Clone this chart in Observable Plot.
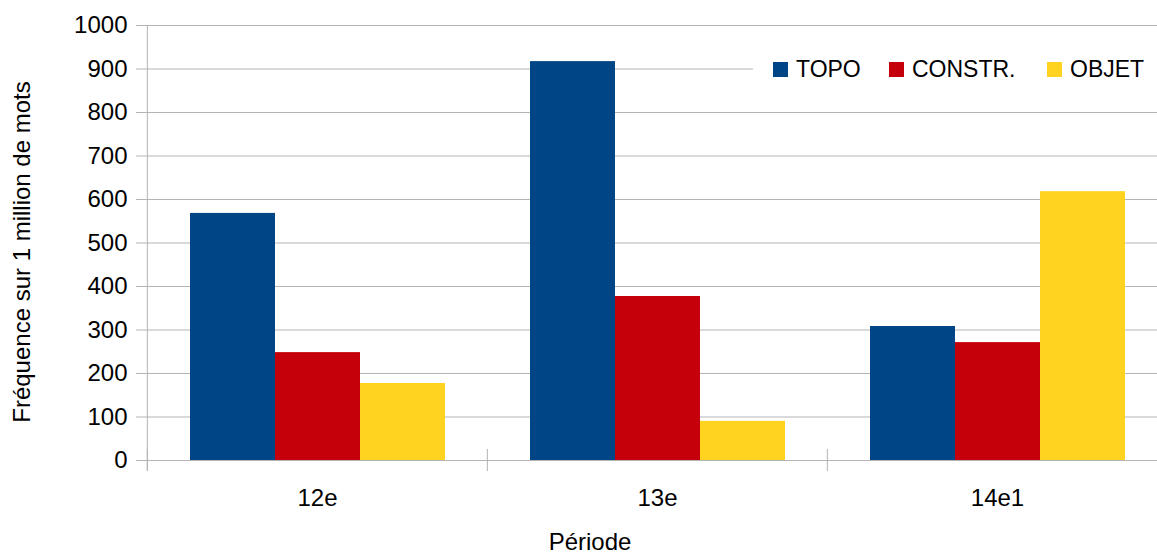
<!DOCTYPE html>
<html><head><meta charset="utf-8">
<script src="https://cdn.jsdelivr.net/npm/d3@7"></script>
<script src="https://cdn.jsdelivr.net/npm/@observablehq/plot@0.6"></script>
<style>
html,body{margin:0;padding:0;overflow:hidden;background:#fff;width:1157px;height:554px}
#wrap{position:relative;width:1157px;height:554px;overflow:hidden;font-family:"Liberation Sans",Arial,sans-serif;color:#000}
#wrap svg{position:absolute;left:0;top:0;max-width:none!important;width:1167px!important;height:554px!important}
.ytitle{position:absolute;left:22px;top:252px;transform:translate(-50%,-50%) rotate(-90deg);white-space:nowrap;font-size:24px;line-height:24px}
.xtitle{position:absolute;left:590px;top:531px;transform:translateX(-50%);white-space:nowrap;font-size:24px;line-height:22px}
.legend{position:absolute;left:753px;top:35px;width:404px;height:65px;background:#fff}
.item{position:absolute;top:22.5px;font-size:23px;line-height:23px;white-space:nowrap}
.sw{position:absolute;top:27px;width:15px;height:15px}
</style></head><body><div id="wrap"></div>
<script>
const periods = ["12e", "13e", "14e1"];
const series = ["TOPO", "CONSTR.", "OBJET"];
const topo = [568, 917, 308];
const constr = [248, 377, 271];
const objet = [177, 90, 618];
const colors = ["#004586", "#c5000b", "#ffd320"];
const yTicks = [0, 100, 200, 300, 400, 500, 600, 700, 800, 900, 1000];
const yTitle = "Fréquence sur 1 million de mots";
const xTitle = "Période";

const values = [topo, constr, objet];
const data = periods.flatMap((p, i) => series.map((s, j) => ({period: p, series: s, value: values[j][i]})));

const W = 1167, ML = 146;
const half = (W - ML) / periods.length / 2;

const chart = Plot.plot({
  width: W, height: 554,
  marginLeft: ML, marginRight: 0, marginTop: 25, marginBottom: 94,
  style: {fontFamily: '"Liberation Sans", Arial, sans-serif', fontSize: "24px", color: "black", background: "white"},
  fx: {domain: periods, padding: 0},
  x: {domain: series, paddingInner: 0, paddingOuter: 0.495, axis: null},
  y: {domain: [0, 1000]},
  color: {domain: series, range: colors},
  marks: [
    Plot.gridY(yTicks, {stroke: "#b3b3b3", strokeOpacity: 1}),
    Plot.barY(data, {fx: "period", x: "series", y: "value", fill: "series"}),
    Plot.ruleX(periods, {fx: d => d, x: null, dx: -half, insetTop: 424, insetBottom: -11, stroke: "#b3b3b3"}),
    Plot.ruleX([periods[0]], {fx: d => d, x: null, dx: -half, insetBottom: -11, stroke: "#b3b3b3"}),
    Plot.axisY(yTicks, {tickSize: 11, tickPadding: 9, stroke: "#b3b3b3", fill: "black", label: null, fontSize: 24, tickFormat: d => String(d)}),
    Plot.axisFx({anchor: "bottom", tickSize: 0, tickPadding: 28, label: null, fontSize: 24, fill: "black"})
  ]
});

const wrap = document.getElementById("wrap");
wrap.appendChild(chart);

const yt = document.createElement("div");
yt.className = "ytitle"; yt.textContent = yTitle; wrap.appendChild(yt);
const xt = document.createElement("div");
xt.className = "xtitle"; xt.textContent = xTitle; wrap.appendChild(xt);

const legend = document.createElement("div");
legend.className = "legend";
const swX = [20, 136, 294];
series.forEach((s, i) => {
  const sw = document.createElement("div");
  sw.className = "sw"; sw.style.left = swX[i] + "px"; sw.style.background = colors[i];
  legend.appendChild(sw);
  const t = document.createElement("div");
  t.className = "item"; t.style.left = (swX[i] + 23) + "px"; t.textContent = s;
  legend.appendChild(t);
});
wrap.appendChild(legend);
</script>
</body></html>
